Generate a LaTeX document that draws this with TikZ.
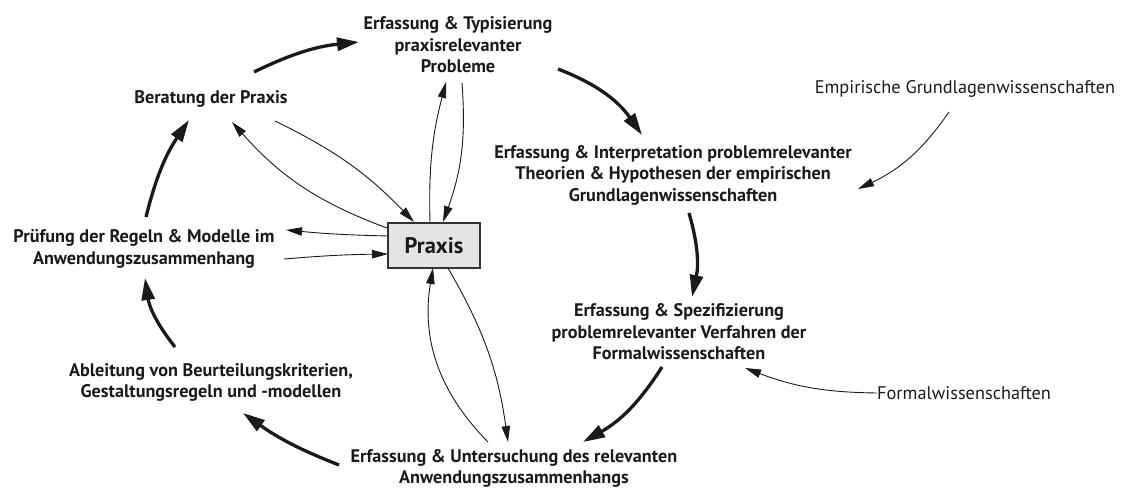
\documentclass[tikz,border=0pt]{standalone}
\usepackage{fontspec}
\setmainfont{PT Sans}
\usetikzlibrary{arrows.meta}
\definecolor{ink}{HTML}{1A1A1A}
\definecolor{boxfill}{HTML}{E4E4E4}
\definecolor{boxline}{HTML}{333333}
\begin{document}
\begin{tikzpicture}[x=1pt,y=1pt,
  stage/.style={font=\bfseries\fontsize{18.2}{21.5}\selectfont, align=center, inner sep=0pt, text=ink},
  source/.style={font=\fontsize{18.3}{21}\selectfont, inner sep=0pt, text=ink},
  hub/.style={draw=boxline, fill=boxfill, line width=1.2pt, minimum width=92pt, minimum height=45pt,
              inner sep=0pt, text=ink, font=\bfseries\fontsize{22.5}{24}\selectfont},
  heavy/.style={draw=ink, line width=3.3pt, -{Triangle[length=22pt,width=13pt]}},
  light/.style={draw=ink, line width=0.9pt, -{Triangle[length=16pt,width=8.5pt]}}]
\useasboundingbox (0,0) rectangle (1121,490);

% central box
\node[hub] (prax) at (434,244.5) {Praxis};

% stages of the cycle
\node[stage] (top)    at (458,445)   {Erfassung \& Typisierung\\praxisrelevanter\\Probleme};
\node[stage] (interp) at (673,315)   {Erfassung \& Interpretation problemrelevanter\\Theorien \& Hypothesen der empirischen\\Grundlagenwissenschaften};
\node[stage] (spez)   at (679,158)   {Erfassung \& Spezifizierung\\problemrelevanter Verfahren der\\Formalwissenschaften};
\node[stage] (unter)  at (514,21.5)  {Erfassung \& Untersuchung des relevanten\\Anwendungszusammenhangs};
\node[stage] (ablt)   at (211,107.5) {Ableitung von Beurteilungskriterien,\\Gestaltungsregeln und -modellen};
\node[stage] (pruef)  at (144,241)   {Prüfung der Regeln \& Modelle im\\Anwendungszusammenhang};
\node[stage] (bera)   at (211,391)   {Beratung der Praxis};

% outside sources
\node[source] (empir)  at (965,401) {Empirische Grundlagenwissenschaften};
\node[source, anchor=west] (formal) at (877,97) {Formalwissenschaften};

% main cycle
\draw[heavy] ([shift={(43,27)}]bera.center)    to[bend left=10] ([shift={(-99,3)}]top.center);
\draw[heavy] ([shift={(100,-24)}]top.center)   to[bend left=17] ([shift={(-31,40)}]interp.center);
\draw[heavy] ([shift={(16,-38)}]interp.center) to[bend left=14] ([shift={(13,35)}]spez.center);
\draw[heavy] ([shift={(-17,-35)}]spez.center)  to[bend left=14] ([shift={(69,26.5)}]unter.center);
\draw[heavy] ([shift={(-175,3.5)}]unter.center) to[bend left=7] ([shift={(32,-30.5)}]ablt.center);
\draw[heavy] ([shift={(-36,35.5)}]ablt.center) to[bend left=15] ([shift={(1,-29)}]pruef.center);
\draw[heavy] ([shift={(2,32)}]pruef.center)    to[bend left=10] ([shift={(-22,-21)}]bera.center);

% exchanges with the practice box
\draw[light] ([shift={(64,-22)}]bera.center)   to[bend left=10] ([shift={(-20,23.5)}]prax.center);
\draw[light] ([shift={(-47,17.5)}]prax.center) to[bend left=14] ([shift={(21,-23)}]bera.center);
\draw[light] ([shift={(-4,23.5)}]prax.center)  to[bend left=8]  ([shift={(-12,-37)}]top.center);
\draw[light] ([shift={(4,-38)}]top.center)     to[bend left=12] ([shift={(9,23.5)}]prax.center);
\draw[light] ([shift={(-46,9.5)}]prax.center)  to[bend left=2]  ([shift={(142,19)}]pruef.center);
\draw[light] ([shift={(140,-10)}]pruef.center) to[bend left=2]  ([shift={(-46,-8.5)}]prax.center);
\draw[light] ([shift={(14,-22.5)}]prax.center) to[bend left=11] ([shift={(-6,26.5)}]unter.center);
\draw[light] ([shift={(-26,26.5)}]unter.center) to[bend left=27] ([shift={(-1,-22.5)}]prax.center);

% inputs from the basic sciences
\draw[light] ([shift={(-16,-23)}]empir.center) to[bend left=15] ([shift={(185,-14)}]interp.center);
\draw[light] (formal.west) to[bend left=10] ([shift={(66,-36)}]spez.center);
\end{tikzpicture}
\end{document}
